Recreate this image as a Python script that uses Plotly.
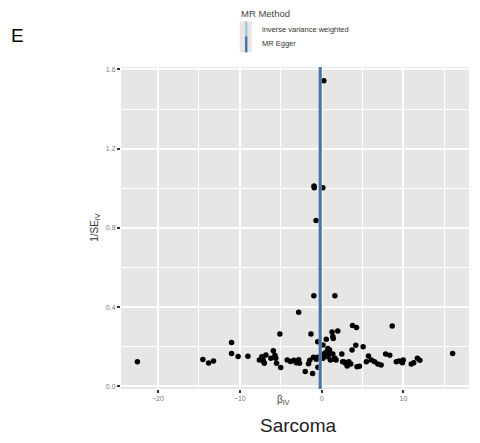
import plotly.graph_objects as go

# ---- data ----
beta_iv = [
    -22.5, -14.5, -13.8, -13.2, -11.0, -11.0, -10.2, -9.0,
    -7.6, -7.3, -7.2, -7.1, -7.0, -6.8, -6.2, -5.9, -5.7, -5.6, -5.5,
    -5.1, -5.0, -4.2, -3.8, -3.4, -3.1, -2.8, -2.8, -2.7, -2.0, -1.6,
    -1.45, -1.3, -1.1, -1.0, -0.95, -0.93, -0.9, -0.68, -0.65, -0.5, -0.48,
    -0.45, 0.15, 0.27, 0.17, 0.07, 0.17, 0.37, 0.47, 0.57, 0.57, 0.67,
    0.77, 0.77, 0.92, 0.97, 1.07, 1.27, 1.37, 1.42, 1.37, 1.52, 1.62,
    1.62, 1.77, 1.97, 2.47, 2.57, 2.77, 2.92, 3.12, 3.32, 3.57, 3.72,
    3.77, 4.17, 4.27, 4.32, 4.62, 5.07, 5.47, 5.72, 6.07, 6.47, 6.87,
    7.27, 7.82, 8.32, 8.62, 9.12, 9.47, 9.87, 9.97, 10.95, 11.25,
    11.7, 12.0, 16.0,
]
inv_se = [
    0.125, 0.136, 0.118, 0.128, 0.222, 0.166, 0.151, 0.152,
    0.133, 0.150, 0.142, 0.127, 0.117, 0.159, 0.142, 0.180, 0.157, 0.142, 0.117,
    0.264, 0.096, 0.133, 0.126, 0.132, 0.120, 0.134, 0.374, 0.117, 0.075, 0.115,
    0.132, 0.264, 0.065, 0.147, 0.457, 1.012, 1.002, 0.837, 0.137, 0.147, 0.226,
    0.097, 1.002, 1.542, 0.209, 0.159, 0.142, 0.167, 0.159, 0.238, 0.174, 0.170,
    0.192, 0.150, 0.164, 0.184, 0.133, 0.275, 0.252, 0.242, 0.164, 0.137, 0.457,
    0.142, 0.133, 0.280, 0.164, 0.125, 0.123, 0.117, 0.103, 0.125, 0.113, 0.184,
    0.307, 0.208, 0.297, 0.099, 0.102, 0.200, 0.124, 0.154, 0.133, 0.125, 0.113,
    0.108, 0.164, 0.157, 0.305, 0.125, 0.128, 0.120, 0.133, 0.113, 0.119,
    0.142, 0.132, 0.166,
]
ivw_estimate = -0.17
egger_estimate = -0.17
method_names = ["inverse variance weighted", "MR Egger"]
method_colors = ["#A9C7DC", "#4A74A6"]
x_ticks = [-20, -10, 0, 10]
x_ticklabels = ["\u221220", "\u221210", "0", "10"]
x_minor = [-15, -5, 5, 15]
y_ticks = [0.0, 0.4, 0.8, 1.2, 1.6]
y_ticklabels = ["0.0", "0.4", "0.8", "1.2", "1.6"]
y_minor = [0.2, 0.6, 1.0, 1.4]
x_range = [-24.5, 18.0]
y_range = [-0.013, 1.612]

FONT = "Liberation Sans, Arial, sans-serif"

fig = go.Figure()
fig.add_trace(go.Scatter(
    x=beta_iv, y=inv_se, mode="markers",
    marker=dict(color="black", size=5.5, line=dict(width=0)),
    showlegend=False, hoverinfo="x+y",
))
for est, col, w in [(ivw_estimate, method_colors[0], 3), (egger_estimate, method_colors[1], 3)]:
    fig.add_trace(go.Scatter(
        x=[est, est], y=y_range, mode="lines",
        line=dict(color=col, width=w), showlegend=False, hoverinfo="skip",
    ))

fig.update_layout(
    width=480, height=443,
    margin=dict(l=121, r=11, t=67, b=54),
    paper_bgcolor="white",
    plot_bgcolor="#E8E6E4",
    font=dict(family=FONT, color="#333"),
    showlegend=False,
)
fig.update_xaxes(
    range=x_range, tickvals=x_ticks, ticktext=x_ticklabels,
    showgrid=True, gridcolor="white", gridwidth=1.8, zeroline=False,
    ticks="outside", ticklen=3, tickwidth=1.5, tickcolor="#333",
    tickfont=dict(size=7, color="#7a7a7a", family=FONT),
    minor=dict(tickvals=x_minor, showgrid=True, gridcolor="white", gridwidth=0.8, ticks=""),
    showline=False,
)
fig.update_yaxes(
    range=y_range, tickvals=y_ticks, ticktext=y_ticklabels,
    showgrid=True, gridcolor="white", gridwidth=1.8, zeroline=False,
    ticks="outside", ticklen=3, tickwidth=1.5, tickcolor="#333",
    tickfont=dict(size=7, color="#7a7a7a", family=FONT),
    minor=dict(tickvals=y_minor, showgrid=True, gridcolor="white", gridwidth=0.8, ticks=""),
    showline=False,
)

L, R, T, B = 121.3, 469.3, 66.7, 389.0
def px(xp):
    return (xp - L) / (R - L)
def py(yp):
    return (B - yp) / (B - T)

ann = []
ann.append(dict(text="E", x=px(9), y=py(35), xref="paper", yref="paper",
                xanchor="left", yanchor="middle", showarrow=False,
                font=dict(size=19, color="black", family=FONT)))
ann.append(dict(text="Sarcoma", x=px(298.5), y=py(426), xref="paper", yref="paper",
                xanchor="center", yanchor="middle", showarrow=False,
                font=dict(size=19, color="#222", family=FONT)))
ann.append(dict(text="\u03b2<sub>IV</sub>", x=px(284), y=py(400), xref="paper", yref="paper",
                xanchor="center", yanchor="middle", showarrow=False,
                font=dict(size=10, color="#444", family=FONT)))
ann.append(dict(text="1/SE<sub>IV</sub>", x=px(95), y=py(227), xref="paper", yref="paper",
                xanchor="center", yanchor="middle", showarrow=False, textangle=-90,
                font=dict(size=10, color="#333", family=FONT)))
# legend
ann.append(dict(text="MR Method", x=px(239.5), y=py(13), xref="paper", yref="paper",
                xanchor="left", yanchor="middle", showarrow=False,
                font=dict(size=9.5, color="#444", family=FONT)))
ann.append(dict(text=method_names[0], x=px(260), y=py(29), xref="paper", yref="paper",
                xanchor="left", yanchor="middle", showarrow=False,
                font=dict(size=7.5, color="#333", family=FONT)))
ann.append(dict(text=method_names[1], x=px(260), y=py(43.5), xref="paper", yref="paper",
                xanchor="left", yanchor="middle", showarrow=False,
                font=dict(size=7.5, color="#333", family=FONT)))
fig.update_layout(annotations=ann)

shapes = [
    dict(type="rect", xref="paper", yref="paper", x0=px(240), x1=px(252), y0=py(52), y1=py(21),
         fillcolor="#E8E6E4", line=dict(width=0), layer="above"),
    dict(type="line", xref="paper", yref="paper", x0=px(246.5), x1=px(246.5), y0=py(36), y1=py(21),
         line=dict(color=method_colors[0], width=2.5), layer="above"),
    dict(type="line", xref="paper", yref="paper", x0=px(246.5), x1=px(246.5), y0=py(52), y1=py(36),
         line=dict(color=method_colors[1], width=2.5), layer="above"),
]
fig.update_layout(shapes=shapes)

fig.write_html("out.html", config={"displayModeBar": False},
               post_script="document.body.style.margin='0';document.body.style.padding='0';")
